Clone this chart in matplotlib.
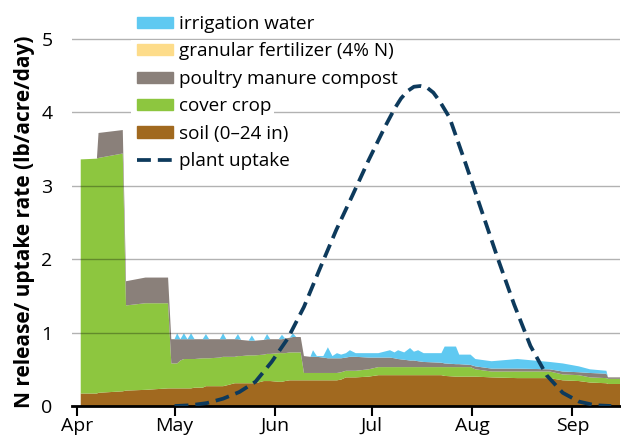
import matplotlib
matplotlib.use('Agg')
import matplotlib.pyplot as plt
from matplotlib.patches import Patch, Rectangle
from matplotlib.lines import Line2D

plt.rcParams['font.family'] = ['Open Sans', 'DejaVu Sans']
plt.rcParams['lines.scale_dashes'] = False

# days since Apr 1
day = [1, 6, 6.5, 14, 15, 21, 28,
       29, 30, 30.8, 31.8, 32.9, 34, 35.1, 36.2, 38.7, 39.7, 40.7, 44, 45, 46,
       48.6, 49.6, 50.6, 52.9, 53.9, 54.9, 57.6, 58.6, 59.6, 62.2, 63.2, 64.2,
       65.6, 66.6, 67.6, 69,
       70, 72, 72.8, 74, 76, 77.4, 78.8, 80.2, 81.5, 83, 84.2, 86, 90, 93,
       96.6, 98, 99.1, 101, 102.8, 104, 105.3, 107, 112.5, 113.5, 117, 118,
       121.5, 123, 128, 136, 146, 150, 155, 158.4, 163.5, 164, 168]

soil = [.17, .17, .18, .20, .21, .22, .24,
        .24, .24, .24, .24, .24, .24, .24, .25, .25, .27, .27, .27, .27, .28,
        .31, .31, .31, .31, .31, .31, .34, .34, .34, .33, .33, .34,
        .35, .35, .35, .35,
        .35, .35, .35, .35, .35, .35, .35, .35, .36, .39, .39, .39, .40, .42,
        .42, .42, .42, .42, .42, .42, .42, .42, .42, .41, .40, .40,
        .40, .40, .39, .38, .38, .35, .34, .32, .31, .30, .30]

cover_crop = [3.19, 3.20, 3.20, 3.24, 1.16, 1.18, 1.16,
              .34, .34, .34, .38, .40, .40, .40, .39, .40, .38, .38, .39, .40, .39,
              .36, .37, .37, .38, .38, .38, .36, .37, .37, .39, .39, .38,
              .38, .38, .38, .38,
              .10, .10, .10, .10, .10, .10, .10, .10, .10, .09, .09, .09, .10, .11,
              .11, .11, .11, .11, .11, .11, .11, .11, .11, .12, .13, .13,
              .13, .10, .08, .09, .09, .08, .08, .07, .07, .07, .07]

poultry = [0, 0, .34, .32, .33, .35, .35,
           .33, .33, .33, .29, .27, .27, .27, .27, .26, .26, .26, .25, .24, .24,
           .24, .23, .22, .20, .20, .20, .20, .20, .20, .19, .19, .20,
           .20, .21, .21, .21,
           .23, .22, .22, .22, .21, .20, .20, .20, .19, .18, .19, .19, .16, .13,
           .13, .12, .11, .10, .09, .09, .08, .07, .06, .05, .04, .04,
           .03, .04, .04, .04, .03, .04, .04, .06, .06, .02, .02]

fertilizer = [0.0] * len(day)  # no visible contribution

irrigation = [0, 0, 0, 0, 0, 0, 0,
              0, 0, .08, 0, .08, 0, .08, 0, 0, .07, 0, 0, .08, 0,
              0, .07, 0, 0, .07, 0, 0, .07, 0, 0, .06, 0,
              0, .05, 0, 0,
              0, 0, .09, .01, .02, .15, .03, .07, .05, .06, .09, .05, .06, .06,
              .10, .08, .12, .10, .17, .12, .15, .12, .13, .23, .24, .13,
              .14, .10, .10, .13, .10, .11, .08, .05, .04, 0, 0]

uptake_day = [30, 35, 40, 45, 50, 55, 60, 65, 70, 75, 80, 85, 90, 95, 98, 100,
              102, 104, 106, 108, 110, 112, 115, 120, 125, 130, 135, 140, 145,
              150, 155, 160, 165]
uptake = [0, 0.01, 0.04, 0.10, 0.19, 0.33, 0.60, 0.92, 1.35, 1.88, 2.40, 2.87,
          3.35, 3.80, 4.05, 4.19, 4.29, 4.35, 4.36, 4.34, 4.27, 4.15, 3.93,
          3.30, 2.65, 2.00, 1.38, 0.82, 0.42, 0.18, 0.06, 0.01, 0]

month_days = [0, 30, 61, 91, 122, 153]
month_labels = ['Apr', 'May', 'Jun', 'Jul', 'Aug', 'Sep']

labels = ['irrigation water', 'granular fertilizer (4% N)', 'poultry manure compost',
          'cover crop', 'soil (0\u201324 in)', 'plant uptake']
c_irr, c_fert, c_poul, c_cov, c_soil = '#5fc9f1', '#fddc8a', '#8a807a', '#8dc63f', '#a1691f'
c_up = '#0d3a5c'

fig = plt.figure(figsize=(6.21, 4.40), dpi=100)
ax = fig.add_axes([72 / 621, 34 / 440, 548 / 621, 400 / 440])

ax.stackplot(day, soil, cover_crop, poultry, fertilizer, irrigation,
             colors=[c_soil, c_cov, c_poul, c_fert, c_irr], linewidth=0)
ax.plot(uptake_day, uptake, color=c_up, lw=2.7, dashes=(10, 5), zorder=4)

ax.set_xlim(-1.7, 167.7)
ax.set_ylim(0, 5.45)
ax.set_yticks([0, 1, 2, 3, 4, 5])
ax.set_xticks(month_days)
ax.set_xticklabels(month_labels)
ax.tick_params(axis='y', length=0, pad=14, labelsize=14)
ax.tick_params(axis='x', length=7, width=1.5, direction='out', labelsize=14, pad=1)
ax.set_axisbelow(False)
ax.yaxis.grid(True, color='black', alpha=0.3, lw=1)
for s in ['top', 'right', 'left']:
    ax.spines[s].set_visible(False)
ax.spines['bottom'].set_linewidth(2)
ax.set_ylabel('N release/ uptake rate (lb/acre/day)', fontsize=15, fontweight='bold')
ax.yaxis.set_label_coords(-0.068, 0.46)

handles = [Patch(color=c_irr), Patch(color=c_fert), Patch(color=c_poul),
           Patch(color=c_cov), Patch(color=c_soil),
           Line2D([0], [0], color=c_up, lw=2.7, dashes=(10, 5))]
leg = fig.legend(handles, labels, loc='upper left', bbox_to_anchor=(137 / 621, 1 - 15 / 440),
                 frameon=False, fontsize=13.6, borderaxespad=0, borderpad=0,
                 handlelength=1.9, handleheight=0.55, handletextpad=0.3,
                 labelspacing=0.5)
leg.set_zorder(5)

# white strip behind each legend row hides the gridlines there
fig.canvas.draw()
lb = leg.get_window_extent()
inv = fig.transFigure.inverted()
for t in leg.get_texts():
    tb = t.get_window_extent()
    (x0, y0), (x1, y1) = inv.transform([(lb.x0 - 6, tb.y0 - 2), (tb.x1 + 3, tb.y1 + 2)])
    fig.add_artist(Rectangle((x0, y0), x1 - x0, y1 - y0, transform=fig.transFigure,
                             facecolor='white', edgecolor='none', zorder=2))

fig.savefig('out.png', dpi=100)
